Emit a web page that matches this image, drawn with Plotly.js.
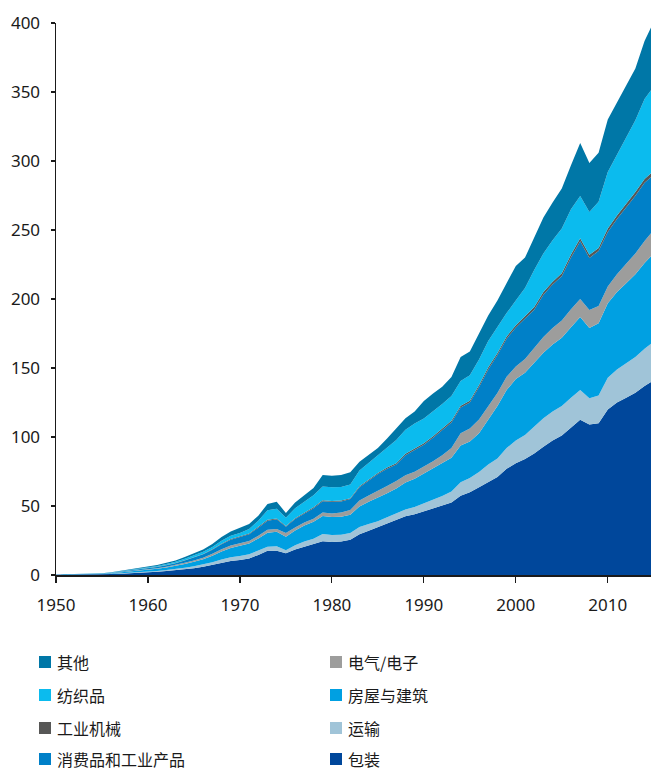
<!DOCTYPE html>
<html>
<head>
<meta charset="utf-8">
<script src="https://cdn.plot.ly/plotly-3.0.1.min.js"></script>
<style>
  html, body { margin: 0; padding: 0; background: #fff; }
  #chart { width: 651px; height: 772px; }
</style>
</head>
<body>
<div id="chart"></div>
<script>
const years = [1950,1951,1952,1953,1954,1955,1956,1957,1958,1959,
  1960,1961,1962,1963,1964,1965,1966,1967,1968,1969,
  1970,1971,1972,1973,1974,1975,1976,1977,1978,1979,
  1980,1981,1982,1983,1984,1985,1986,1987,1988,1989,
  1990,1991,1992,1993,1994,1995,1996,1997,1998,1999,
  2000,2001,2002,2003,2004,2005,2006,2007,2008,2009,
  2010,2011,2012,2013,2014,2015];

const packaging = [0.13,0.16,0.19,0.26,0.32,0.38,0.64,0.96,1.22,1.54,
  1.92,2.30,2.82,3.36,4.16,4.96,5.92,7.20,8.80,10.08,
  10.8,12.0,14.5,17.5,17.5,15.8,18.5,20.5,22.0,24.5,
  24.0,24.3,25.5,29.5,32.0,34.5,37.0,39.5,42.5,44.0,
  46.0,48.0,50.0,52.5,57.5,60.0,63.5,67.5,71.0,77.0,
  81.0,84.0,88.0,93.0,97.5,101.0,107.0,112.5,109.0,110.0,
  120.0,125.0,128.5,132.0,137.0,141.0];

const transport = [0.04,0.05,0.05,0.07,0.09,0.11,0.18,0.27,0.34,0.43,
  0.54,0.65,0.79,0.95,1.17,1.40,1.67,2.03,2.48,2.84,
  3.0,3.0,3.2,3.0,3.3,2.2,3.0,3.8,4.3,5.2,
  5.0,4.9,4.9,5.2,5.0,4.5,4.8,5.0,5.0,5.3,
  6.0,6.5,7.3,8.0,9.8,10.2,11.2,12.5,13.5,15.0,
  16.5,17.5,19.5,20.5,21.0,21.5,21.5,21.5,19.0,20.0,
  23.0,24.0,25.0,26.0,27.0,28.0];

const building = [0.08,0.11,0.13,0.17,0.21,0.25,0.42,0.63,0.80,1.01,
  1.26,1.51,1.85,2.21,2.73,3.26,3.89,4.73,5.78,6.62,
  7.2,7.8,8.8,10.2,10.5,9.8,10.8,11.5,12.2,13.1,
  13.0,13.0,13.3,15.0,16.0,17.0,17.5,18.1,19.5,20.5,
  21.5,22.5,23.5,24.5,26.5,26.5,28.0,33.0,38.0,42.0,
  44.5,45.0,46.0,47.5,48.5,49.5,51.0,53.0,51.0,52.5,
  54.0,56.0,58.0,60.0,62.0,64.0];

const electrical = [0.02,0.03,0.04,0.05,0.06,0.07,0.12,0.18,0.23,0.29,
  0.36,0.43,0.53,0.63,0.78,0.93,1.11,1.35,1.65,1.89,
  2.0,1.9,2.0,2.0,2.1,2.7,2.2,2.2,2.3,2.4,
  2.6,3.0,3.4,4.3,4.6,4.8,5.2,5.5,5.3,5.0,
  5.0,5.4,6.0,7.0,9.0,9.5,10.0,9.0,9.3,9.7,
  9.0,10.0,10.8,11.5,12.0,12.5,13.0,13.0,13.0,12.5,
  12.0,13.0,14.0,15.0,16.0,17.0];

const consumer = [0.05,0.07,0.08,0.10,0.13,0.16,0.26,0.39,0.49,0.62,
  0.78,0.94,1.14,1.37,1.69,2.02,2.41,2.93,3.58,4.10,
  4.3,4.9,5.8,6.7,7.0,4.5,6.0,6.7,7.6,8.3,
  8.4,8.0,7.9,9.5,11.0,12.3,12.5,12.0,14.5,16.0,
  15.8,17.0,18.0,18.5,18.5,18.8,23.5,27.0,27.6,27.5,
  28.3,29.5,28.0,30.5,31.5,32.0,37.5,41.8,37.8,39.8,
  39.6,40.0,41.0,41.8,42.2,40.0];

const machinery = [0.01,0.01,0.01,0.01,0.02,0.02,0.03,0.05,0.06,0.07,
  0.09,0.11,0.13,0.16,0.20,0.23,0.28,0.34,0.41,0.47,
  0.5,0.5,0.6,0.6,0.6,0.5,0.6,0.6,0.7,0.7,
  0.7,0.7,0.7,0.8,0.8,0.8,0.9,0.9,1.0,1.0,
  1.1,1.1,1.2,1.2,1.3,1.3,1.4,1.5,1.5,1.6,
  1.7,1.8,1.9,2.0,2.0,2.1,2.2,2.2,2.2,2.2,
  2.4,2.5,2.6,2.7,2.8,3.0];

const textiles = [0.03,0.04,0.05,0.06,0.08,0.10,0.16,0.24,0.30,0.38,
  0.48,0.58,0.70,0.84,1.04,1.24,1.48,1.80,2.20,2.52,
  2.6,3.3,4.5,7.0,7.0,6.0,7.2,7.8,8.6,10.0,
  9.8,9.8,9.8,11.5,12.0,12.8,14.5,16.8,17.5,18.0,
  18.0,18.0,18.0,18.0,18.0,18.5,18.5,19.0,19.2,17.0,
  18.0,20.2,26.8,28.0,30.0,32.4,32.8,30.6,31.0,33.5,
  41.0,44.0,48.0,52.0,58.0,61.0];

const other = [0.04,0.05,0.06,0.08,0.10,0.11,0.19,0.29,0.36,0.46,
  0.57,0.68,0.84,1.00,1.24,1.47,1.76,2.14,2.61,2.99,
  3.6,3.6,3.6,4.5,5.0,3.5,4.2,4.4,5.3,8.3,
  8.5,8.8,9.0,6.2,5.6,5.3,6.6,8.2,8.2,8.7,
  12.6,13.0,12.5,13.8,17.4,17.2,18.9,18.5,18.9,21.7,
  25.0,22.0,24.0,26.0,27.5,29.0,32.0,38.4,35.5,35.5,
  38.0,37.5,37.9,37.5,42.0,47.0];

const seriesNames = ['包装','运输','房屋与建筑','电气/电子','消费品和工业产品','工业机械','纺织品','其他'];
const seriesData = [packaging, transport, building, electrical, consumer, machinery, textiles, other];
const seriesColors = ['#00479b','#a0c4d8','#00a0e2','#9d9d9c','#0080c8','#575756','#0bbbee','#0077a7'];

const xTicks = [1950,1960,1970,1980,1990,2000,2010];
const yTicks = [0,50,100,150,200,250,300,350,400];

const legendLeft = ['其他','纺织品','工业机械','消费品和工业产品'];
const legendRight = ['电气/电子','房屋与建筑','运输','包装'];

const W = 651, H = 772;
const M = {l: 56, r: 0, t: 23, b: 197};
const plotW = W - M.l - M.r, plotH = H - M.t - M.b;
const px2x = p => (p - M.l) / plotW;
const px2y = p => (H - M.b - p) / plotH;

const traces = seriesData.map((d, i) => ({
  x: years, y: d, name: seriesNames[i],
  type: 'scatter', mode: 'lines', stackgroup: 'one',
  line: {width: 0, color: seriesColors[i]},
  fillcolor: seriesColors[i],
  showlegend: false, hoverinfo: 'skip'
}));

const shapes = [], annotations = [];
const rowY = [662, 695, 728, 759];
function addLegend(names, sqX, txtX) {
  names.forEach((n, r) => {
    const ci = seriesNames.indexOf(n);
    const cy = rowY[r];
    shapes.push({type: 'rect', xref: 'paper', yref: 'paper',
      x0: px2x(sqX), x1: px2x(sqX + 12), y0: px2y(cy + 6), y1: px2y(cy - 6),
      fillcolor: seriesColors[ci], line: {width: 0}});
    annotations.push({xref: 'paper', yref: 'paper', x: px2x(txtX), y: px2y(cy),
      xanchor: 'left', yanchor: 'middle', text: n, showarrow: false, borderpad: 0,
      font: {size: 16, color: '#1a1a1a', family: 'Noto Sans CJK SC, Noto Sans, sans-serif'}});
  });
}
addLegend(legendLeft, 39, 56);
addLegend(legendRight, 330, 347);

const layout = {
  width: W, height: H,
  margin: M,
  paper_bgcolor: '#fff', plot_bgcolor: '#fff',
  font: {family: 'Noto Sans, Noto Sans CJK SC, sans-serif', size: 17, color: '#1a1a1a'},
  showlegend: false,
  xaxis: {
    range: [1950, 2014.7], tickvals: xTicks, ticktext: xTicks.map(String),
    showline: true, linecolor: '#1a1a1a', linewidth: 1.5,
    ticks: 'outside', ticklen: 6, tickcolor: '#1a1a1a', tickwidth: 1.2,
    showgrid: false, zeroline: false, ticklabelstandoff: 8,
    tickfont: {size: 17}, fixedrange: true
  },
  yaxis: {
    range: [0, 400], tickvals: yTicks, ticktext: yTicks.map(String),
    showline: true, linecolor: '#1a1a1a', linewidth: 1.5,
    ticks: 'outside', ticklen: 4, tickcolor: '#1a1a1a', tickwidth: 1.2,
    showgrid: false, zeroline: false, ticklabelstandoff: 7,
    tickfont: {size: 17}, fixedrange: true
  },
  shapes: shapes,
  annotations: annotations
};

Plotly.newPlot('chart', traces, layout, {displayModeBar: false, staticPlot: true});
</script>
</body>
</html>
